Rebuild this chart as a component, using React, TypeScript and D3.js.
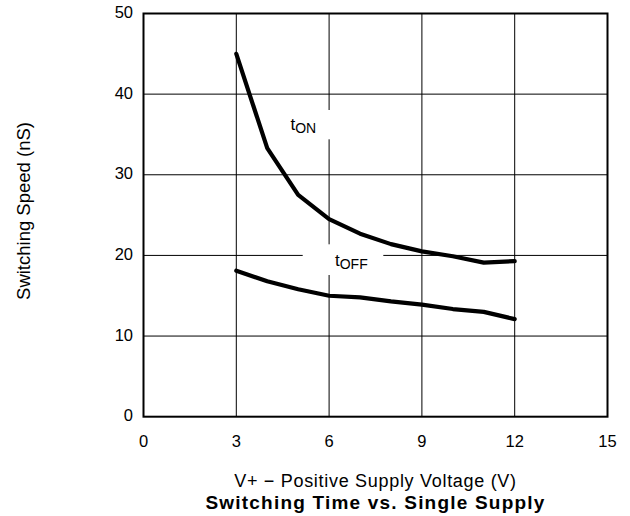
import React from "react";
import * as d3 from "d3";

const voltages = [3, 4, 5, 6, 7, 8, 9, 10, 11, 12];
const tOn = [45.0, 33.3, 27.5, 24.5, 22.7, 21.4, 20.5, 19.9, 19.1, 19.3];
const tOff = [18.1, 16.8, 15.8, 15.0, 14.8, 14.3, 13.9, 13.35, 13.0, 12.1];
const xTicks = [0, 3, 6, 9, 12, 15];
const yTicks = [0, 10, 20, 30, 40, 50];

const W = 630, H = 516;
const L = 143.5, R = 607.5, T = 13.5, B = 416.7;
const FONT = "'Liberation Sans', Arial, Helvetica, sans-serif";

export default function App() {
  const x = d3.scaleLinear().domain([0, 15]).range([L, R]);
  const y = d3.scaleLinear().domain([0, 50]).range([B, T]);
  const line = d3
    .line<[number, number]>()
    .x((d) => x(d[0]))
    .y((d) => y(d[1]))
    .curve(d3.curveLinear);
  const onPts = voltages.map((v, i) => [v, tOn[i]] as [number, number]);
  const offPts = voltages.map((v, i) => [v, tOff[i]] as [number, number]);

  return (
    <svg width={W} height={H} style={{ position: "absolute", left: 0, top: 0 }}>
      <rect x={0} y={0} width={W} height={H} fill="#fff" />
      {xTicks.slice(1, -1).map((t) => (
        <line key={"gx" + t} x1={x(t)} x2={x(t)} y1={T} y2={B} stroke="#000" strokeWidth={1} />
      ))}
      {yTicks.slice(1, -1).map((t) => (
        <line key={"gy" + t} x1={L} x2={R} y1={y(t)} y2={y(t)} stroke="#000" strokeWidth={1} />
      ))}
      {/* label masks */}
      <rect x={286} y={110} width={50} height={29.3} fill="#fff" />
      <rect x={302.7} y={244.3} width={80.6} height={30.7} fill="#fff" />
      <rect x={L} y={T} width={R - L} height={B - T} fill="none" stroke="#000" strokeWidth={2} />
      <path d={line(onPts) || ""} fill="none" stroke="#000" strokeWidth={4.2} strokeLinejoin="round" strokeLinecap="round" />
      <path d={line(offPts) || ""} fill="none" stroke="#000" strokeWidth={4.2} strokeLinejoin="round" strokeLinecap="round" />
      <text x={290.5} y={129.5} fontFamily={FONT} fontSize={17}>
        t<tspan fontSize={14} dy={3}>ON</tspan>
      </text>
      <text x={335} y={266} fontFamily={FONT} fontSize={17}>
        t<tspan fontSize={14} dy={3}>OFF</tspan>
      </text>
      {yTicks.map((t) => (
        <text key={"yl" + t} x={133} y={y(t) + 4.5} textAnchor="end" fontFamily={FONT} fontSize={16.5}>
          {t}
        </text>
      ))}
      {xTicks.map((t) => (
        <text key={"xl" + t} x={x(t)} y={446.5} textAnchor="middle" fontFamily={FONT} fontSize={16.5}>
          {t}
        </text>
      ))}
      <text
        transform={`translate(29.5,211) rotate(-90)`}
        textAnchor="middle"
        fontFamily={FONT}
        fontSize={18.5}
      >
        Switching Speed (nS)
      </text>
      <text x={(L + R) / 2} y={486.5} textAnchor="middle" fontFamily={FONT} fontSize={18} letterSpacing={0.7}>
        V+ − Positive Supply Voltage (V)
      </text>
      <text x={(L + R) / 2} y={508.5} textAnchor="middle" fontFamily={FONT} fontSize={19} fontWeight="bold" letterSpacing={1.2}>
        Switching Time vs. Single Supply
      </text>
    </svg>
  );
}
